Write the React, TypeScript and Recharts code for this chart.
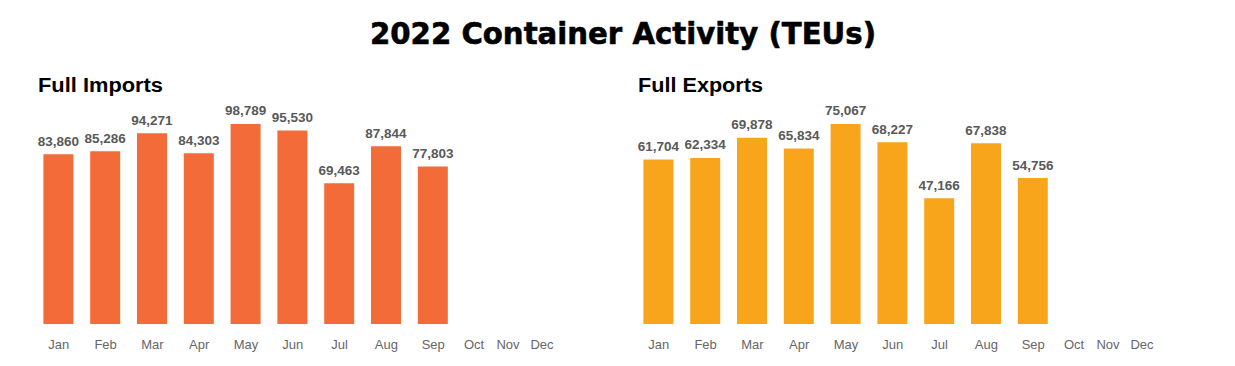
import React from "react";
import { BarChart, Bar, XAxis, YAxis, LabelList } from "recharts";

const months = ["Jan", "Feb", "Mar", "Apr", "May", "Jun", "Jul", "Aug", "Sep"];
const emptyMonths = ["Oct", "Nov", "Dec"];
const fullImports = [83860, 85286, 94271, 84303, 98789, 95530, 69463, 87844, 77803];
const fullExports = [61704, 62334, 69878, 65834, 75067, 68227, 47166, 67838, 54756];

const title = "2022 Container Activity (TEUs)";
const importsTitle = "Full Imports";
const exportsTitle = "Full Exports";

const importColor = "#F26B38";
const exportColor = "#F9A51C";
const labelColor = "#595959";
const tickColor = "#666666";

const fmt = (v: any) => (v == null ? "" : Number(v).toLocaleString("en-US"));

const tickStyle = { fill: tickColor, fontSize: 13, fontFamily: "Liberation Sans, Arial, sans-serif" };

const MAIN_W = 456.6;
const REST_W = 102;

function Panel({ left, values, color, heading }: { left: number; values: number[]; color: string; heading: string }) {
  const data = months.map((m, i) => ({ month: m, value: values[i] }));
  const rest = emptyMonths.map((m) => ({ month: m, value: null }));
  return (
    <>
      <svg style={{ position: "absolute", left: left, top: 0 }} width={300} height={110}>
        <text
          x={38}
          y={91.7}
          fontFamily="Liberation Sans, Arial, sans-serif"
          fontWeight="bold"
          fontSize={20}
          fill="#000"
          textLength={125}
          lengthAdjust="spacingAndGlyphs"
        >
          {heading}
        </text>
      </svg>
      <div style={{ position: "absolute", left: left, top: 0 }}>
        <BarChart width={MAIN_W} height={366} data={data} margin={{ top: 124, right: 0, left: 35.4, bottom: 12 }}>
          <XAxis dataKey="month" axisLine={false} tickLine={false} tickSize={0} tickMargin={16} height={30} tick={tickStyle} interval={0} />
          <YAxis hide domain={[0, "dataMax"]} />
          <Bar dataKey="value" fill={color} barSize={30} isAnimationActive={false}>
            <LabelList
              dataKey="value"
              position="top"
              offset={8.5}
              formatter={fmt}
              style={{ fill: labelColor, fontSize: 13.5, fontWeight: "bold", fontFamily: "Liberation Sans, Arial, sans-serif" }}
            />
          </Bar>
        </BarChart>
      </div>
      <div style={{ position: "absolute", left: left + MAIN_W, top: 0 }}>
        <BarChart width={REST_W} height={366} data={rest} margin={{ top: 124, right: 0, left: 0, bottom: 12 }}>
          <XAxis dataKey="month" axisLine={false} tickLine={false} tickSize={0} tickMargin={16} height={30} tick={tickStyle} interval={0} />
          <YAxis hide domain={[0, 1]} />
          <Bar dataKey="value" fill={color} isAnimationActive={false} />
        </BarChart>
      </div>
    </>
  );
}

export default function App() {
  return (
    <div style={{ position: "relative", width: 1235, height: 366, margin: -8, background: "#fff", overflow: "hidden" }}>
      <svg style={{ position: "absolute", left: 0, top: 0 }} width={1235} height={60}>
        <text
          x={623}
          y={44.3}
          textAnchor="middle"
          fontFamily="DejaVu Sans, sans-serif"
          fontWeight="bold"
          fontSize={30}
          fill="#000"
          stroke="#000"
          strokeWidth={0.6}
          textLength={506}
          lengthAdjust="spacingAndGlyphs"
        >
          {title}
        </text>
      </svg>
      <Panel left={0} values={fullImports} color={importColor} heading={importsTitle} />
      <Panel left={600} values={fullExports} color={exportColor} heading={exportsTitle} />
    </div>
  );
}
